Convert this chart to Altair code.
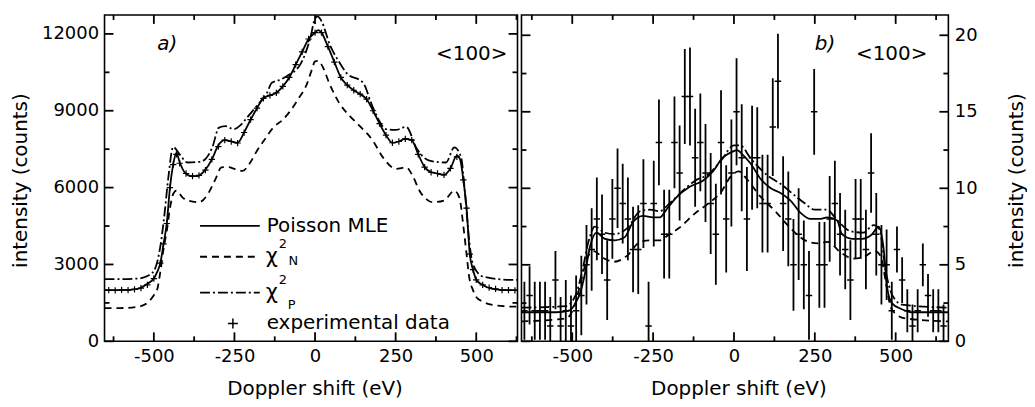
import altair as alt
import pandas as pd

FONT = "DejaVu Sans"

# ---------------- panel a) : fits and data (counts) ----------------
a_mle_x = [-653, -600, -550, -520, -500, -490, -480, -470, -460, -450, -440, -430, -420, -405, -385,
           -365, -340, -320, -300, -280, -260, -240, -220, -200, -180, -160, -140, -120, -100, -80,
           -60, -40, -20, 0, 10, 20, 40, 60, 80, 100, 120, 140, 160, 180, 200,
           220, 240, 260, 280, 300, 320, 340, 360, 380, 400, 420, 440, 450, 460, 470,
           480, 490, 500, 520, 550, 600, 628]
a_mle_y = [2000, 2000, 2050, 2250, 2450, 2700, 3050, 3800, 4600, 6000, 6900, 7350, 7000, 6600, 6450,
           6450, 6700, 7100, 7650, 7850, 7800, 7750, 8150, 8650, 9100, 9500, 9600, 9700, 9950, 10300,
           10800, 11300, 11800, 12050, 12150, 12050, 11500, 10900, 10300, 10000, 9800, 9650, 9450, 9000, 8500,
           8050, 7750, 7800, 7900, 7850, 7300, 6800, 6600, 6550, 6500, 6750, 7250, 7100, 6300, 5200,
           3400, 2800, 2400, 2200, 2050, 2000, 2000]

a_chin_x = [-653, -600, -550, -520, -500, -490, -480, -470, -460, -450, -440, -430, -410, -390, -360,
            -330, -310, -290, -270, -250, -225, -200, -180, -155, -130, -100, -77, -50, -26, -10,
            0, 10, 20, 46, 75, 108, 139, 180, 211, 252, 283, 305, 324, 345, 365,
            401, 432, 448, 460, 470, 478, 490, 499, 520, 551, 600, 628]
a_chin_y = [1300, 1300, 1350, 1500, 1800, 2000, 2700, 3600, 4300, 5200, 5750, 5880, 5600, 5480, 5430,
            5800, 6300, 6790, 6800, 6730, 6650, 7000, 7440, 7900, 8340, 8650, 8990, 9500, 10020, 10600,
            10930, 10950, 10800, 10020, 9300, 8790, 8400, 7820, 7170, 6730, 6790, 6400, 5880, 5550, 5430,
            5500, 5880, 5600, 4500, 3400, 2520, 2000, 1750, 1550, 1420, 1360, 1350]

a_chip_x = [-653, -600, -550, -520, -500, -494, -480, -468, -455, -440, -420, -396, -355, -319, -298,
            -278, -252, -230, -211, -180, -149, -134, -110, -88, -46, -15, 0, 8, 20, 46,
            70, 98, 149, 180, 221, 250, 283, 314, 355, 406, 432, 453, 465, 478, 489,
            520, 611, 628]
a_chip_y = [2430, 2430, 2450, 2550, 2750, 2910, 3700, 4850, 6400, 7590, 7300, 6980, 7010, 7560, 8340,
            8400, 8280, 8450, 8730, 9200, 9700, 10090, 10200, 10350, 10800, 11830, 12600, 12680, 12500, 11570,
            11000, 10470, 10090, 9110, 8280, 8250, 8370, 7560, 7050, 6980, 7570, 7180, 5800, 3950, 3040,
            2530, 2400, 2400]

a_exp_x = [-640, -620, -600, -580, -560, -540, -520, -500, -480, -470, -460, -450, -440, -430, -420,
           -400, -380, -360, -340, -320, -300, -280, -260, -240, -220, -200, -180, -160, -140, -120,
           -100, -80, -60, -40, -20, 0, 20, 40, 60, 80, 100, 120, 140, 160, 180,
           200, 220, 240, 260, 280, 300, 320, 340, 360, 380, 400, 420, 440, 460, 470,
           480, 490, 500, 520, 540, 560, 580, 600, 620]
a_exp_y = [2000, 1990, 2010, 2000, 2030, 2080, 2200, 2450, 3050, 3800, 4600, 6000, 6900, 7300, 6950,
           6550, 6450, 6480, 6680, 7100, 7600, 7850, 7800, 7740, 8150, 8650, 9100, 9480, 9600, 9700,
           9950, 10300, 10800, 11300, 11800, 12050, 12050, 11500, 10900, 10300, 10000, 9800, 9650, 9450, 9000,
           8500, 8050, 7750, 7800, 7900, 7850, 7300, 6800, 6600, 6550, 6500, 6750, 7200, 6300, 5200,
           3400, 2800, 2400, 2200, 2100, 2050, 2000, 2000, 1990]

# ---------------- panel b) : fits and data (counts) ----------------
b_mle_x = [-657, -600, -550, -510, -490, -475, -461, -445, -425, -399, -368, -338, -312, -281, -250,
           -229, -209, -178, -137, -96, -65, -35, -4, 10, 22, 52, 83, 114, 144, 175,
           206, 237, 268, 288, 319, 334, 365, 396, 427, 447, 463, 473, 488, 519, 550,
           600, 663]
b_mle_y = [1.9, 1.9, 1.9, 2.0, 2.5, 3.2, 4.4, 6.2, 7.1, 6.7, 6.6, 6.8, 7.8, 8.2, 8.1,
           8.1, 8.6, 9.4, 10.1, 10.5, 11.1, 12.0, 12.4, 12.5, 12.3, 11.6, 10.6, 10.0, 9.7, 9.2,
           8.4, 8.0, 8.0, 8.1, 7.9, 7.0, 6.7, 6.7, 7.0, 7.5, 6.0, 3.6, 2.5, 2.1, 1.9,
           1.9, 1.9]

b_chin_x = [-657, -520, -490, -470, -450, -435, -400, -370, -330, -290, -260, -230, -200, -170, -124,
            -80, -42, -5, 15, 40, 80, 128, 170, 220, 260, 290, 330, 370, 400, 436,
            455, 470, 485, 500, 530, 663]
b_chin_y = [1.3, 1.5, 2.5, 4.2, 5.6, 5.9, 5.4, 5.2, 5.6, 6.5, 6.6, 6.6, 7.0, 7.4, 8.3,
            9.0, 9.7, 10.9, 11.1, 10.6, 9.5, 8.5, 7.5, 6.6, 6.4, 6.5, 5.8, 5.4, 5.5, 5.9,
            5.5, 3.8, 2.2, 1.8, 1.5, 1.3]

b_chip_x = [-657, -520, -490, -470, -450, -430, -400, -370, -330, -290, -260, -230, -200, -150, -120,
            -80, -40, 0, 20, 50, 100, 150, 184, 220, 250, 287, 320, 360, 400, 432,
            450, 470, 490, 520, 663]
b_chip_y = [2.2, 2.3, 3.0, 4.5, 6.5, 7.5, 7.1, 7.0, 7.4, 8.5, 8.6, 8.5, 9.0, 10.0, 10.5,
            10.9, 11.8, 12.8, 12.8, 12.0, 10.9, 10.2, 9.6, 9.0, 8.6, 8.6, 7.9, 7.2, 7.1, 7.6,
            7.3, 4.5, 3.0, 2.4, 2.2]

b_exp_x = [-648, -632, -616, -600, -584, -568, -552, -536, -520, -504,
           -488, -472, -456, -440, -424, -408, -392, -376, -360, -344,
           -328, -312, -296, -280, -264, -248, -232, -216, -200, -184,
           -168, -152, -136, -120, -104, -88, -72, -56, -40, -24,
           -8, 8, 24, 40, 56, 72, 88, 104, 120, 136,
           152, 168, 184, 200, 216, 232, 248, 264, 280, 296,
           312, 328, 344, 360, 376, 392, 408, 424, 440, 456,
           472, 488, 504, 520, 536, 552, 568, 584, 600, 616,
           632, 648]
b_exp_y = [2, 3, 2, 2, 2, 1, 4, 1, 2, 1,
           2, 3, 5, 6, 8, 7, 4, 8, 10, 9,
           8, 6, 6, 9, 1, 9, 13, 7, 7, 13,
           11, 16, 16, 12, 13, 11, 9, 7, 13, 8,
           11, 15, 12, 8, 12, 12, 9, 9, 14, 17,
           9, 8, 5, 7, 5, 3, 15, 5, 5, 8,
           9, 7, 6, 4, 8, 8, 6, 11, 7, 5,
           5, 2, 6, 4, 2, 1, 2, 5, 3, 2,
           2, 1]
b_exp_err = [1.9, 1.9, 1.9, 1.9, 1.9, 1.9, 1.9, 1.9, 2.0, 2.0,
             2.3, 2.6, 2.6, 2.7, 2.7, 2.6, 2.6, 2.6, 2.6, 2.6,
             2.7, 2.8, 2.9, 2.9, 2.9, 2.8, 2.8, 2.9, 2.9, 3.0,
             3.1, 3.1, 3.2, 3.2, 3.2, 3.2, 3.3, 3.3, 3.4, 3.5,
             3.5, 3.5, 3.5, 3.4, 3.4, 3.3, 3.2, 3.2, 3.2, 3.1,
             3.1, 3.1, 3.0, 3.0, 2.9, 2.9, 2.8, 2.8, 2.8, 2.8,
             2.8, 2.7, 2.6, 2.6, 2.6, 2.6, 2.6, 2.6, 2.7, 2.6,
             2.3, 1.9, 1.5, 1.5, 1.4, 1.4, 1.4, 1.4, 1.4, 1.4,
             1.4, 1.4]

# ---------------- axes / ticks ----------------
x_major = [-500, -250, 0, 250, 500]
x_minor = [-625, -375, -125, 125, 375, 625]
a_y_major = [0, 3000, 6000, 9000, 12000]
a_y_minor = [1500, 4500, 7500, 10500]
b_y_major = [0, 5, 10, 15, 20]
b_y_minor = [2.5, 7.5, 12.5, 17.5]

W1, W2, H = 415, 429, 328
XA = [-653, 628]
XB = [-657, 663]
YA = [0, 12740]
YB = [0, 21.33]

HYPHEN_LABEL = "datum.value < 0 ? '-' + abs(datum.value) : '' + datum.value"


def sc(dom):
    return alt.Scale(domain=dom, nice=False, zero=False)


def label_x_axis(tx):
    return alt.Axis(orient="bottom", values=x_major, ticks=False, tickSize=0, domain=False, grid=False,
                    labelExpr=HYPHEN_LABEL,
                    labelFont=FONT, labelFontSize=18, labelColor="black", labelPadding=6, labelFlush=False,
                    title="Doppler shift (eV)", titleFont=FONT, titleFontSize=20, titleFontWeight="normal",
                    titleColor="black", titleX=tx, titleY=47, titleAlign="center", titleBaseline="middle")


def label_y_axis(orient, values, tx):
    return alt.Axis(orient=orient, values=values, ticks=False, tickSize=0, domain=False, grid=False,
                    labelExpr=HYPHEN_LABEL, labelFont=FONT, labelFontSize=18, labelColor="black",
                    labelPadding=6, labelFlush=False, title="intensity (counts)", titleFont=FONT,
                    titleFontSize=20, titleFontWeight="normal", titleColor="black", titleAngle=270,
                    titleX=tx, titleY=166, titleAlign="center", titleBaseline="middle")


def line_layer(xs, ys, xs_, ys_, dash=None, xaxis=None, yaxis=None):
    df = pd.DataFrame({"x": xs, "y": ys})
    kw = dict(color="black", strokeWidth=1.8, clip=True, interpolate="monotone")
    if dash is not None:
        kw["strokeDash"] = dash
    xenc = alt.X("x:Q", scale=xs_, axis=xaxis) if xaxis is not None else alt.X("x:Q", scale=xs_)
    yenc = alt.Y("y:Q", scale=ys_, axis=yaxis) if yaxis is not None else alt.Y("y:Q", scale=ys_)
    return alt.Chart(df).mark_line(**kw).encode(x=xenc, y=yenc)


def xtick_layer(values, xs_, y0, y1):
    return alt.Chart(pd.DataFrame({"v": values})).mark_rule(
        color="black", strokeWidth=1.8, orient="vertical"
    ).encode(x=alt.X("v:Q", scale=xs_), y=alt.value(y0), y2=alt.value(y1))


def ytick_layer(values, ys_, x0, x1):
    return alt.Chart(pd.DataFrame({"w": values})).mark_rule(
        color="black", strokeWidth=1.8, orient="horizontal"
    ).encode(y=alt.Y("w:Q", scale=ys_), x=alt.value(x0), x2=alt.value(x1))


def frame_ticks(xs_, ys_, y_major, y_minor, W):
    return [
        xtick_layer(x_major, xs_, H, H - 9),
        xtick_layer(x_minor, xs_, H, H - 5),
        xtick_layer(x_major, xs_, 0, 9),
        xtick_layer(x_minor, xs_, 0, 5),
        ytick_layer(y_major, ys_, 0, 9),
        ytick_layer(y_minor, ys_, 0, 5),
        ytick_layer(y_major, ys_, W, W - 9),
        ytick_layer(y_minor, ys_, W, W - 5),
    ]


one = pd.DataFrame({"k": [0]})
PLUS = "M-1,0L1,0M0,-1L0,1"


def txt(s, x, y, size=20, align="left", baseline="middle", style="normal"):
    return alt.Chart(one).mark_text(text=s, font=FONT, fontSize=size, fontStyle=style, align=align,
                                    baseline=baseline, color="black").encode(x=alt.value(x), y=alt.value(y))


def leg_rule(y, dash=None):
    kw = dict(color="black", strokeWidth=1.8)
    if dash is not None:
        kw["strokeDash"] = dash
    return alt.Chart(one).mark_rule(**kw).encode(x=alt.value(96), x2=alt.value(156), y=alt.value(y))


DASH = [7, 5]
DASHDOT = [10, 3, 2, 3]

# ---------------- panel a ----------------
sxa, sya = sc(XA), sc(YA)
a_exp = alt.Chart(pd.DataFrame({"x": a_exp_x, "y": a_exp_y})).mark_point(
    shape=PLUS, size=40, filled=False, color="black", strokeWidth=1.2, opacity=1, clip=True
).encode(x=alt.X("x:Q", scale=sxa), y=alt.Y("y:Q", scale=sya))

panel_a = alt.layer(
    line_layer(a_mle_x, a_mle_y, sxa, sya, xaxis=label_x_axis(211),
               yaxis=label_y_axis("left", a_y_major, -84)),
    line_layer(a_chin_x, a_chin_y, sxa, sya, DASH),
    line_layer(a_chip_x, a_chip_y, sxa, sya, DASHDOT),
    a_exp,
    *frame_ticks(sxa, sya, a_y_major, a_y_minor, W1),
    txt("a)", 63, 29, style="italic", align="center"),
    txt("<100>", 369, 39, align="center"),
    leg_rule(212),
    leg_rule(243, DASH),
    leg_rule(279, DASHDOT),
    txt("Poisson MLE", 163, 212),
    txt("\u03c7", 162, 249, size=21, baseline="alphabetic"),
    txt("2", 175, 234, size=13, baseline="alphabetic"),
    txt("N", 185, 251, size=13, baseline="alphabetic"),
    txt("\u03c7", 162, 285, size=21, baseline="alphabetic"),
    txt("2", 175, 270, size=13, baseline="alphabetic"),
    txt("P", 184, 296, size=13, baseline="alphabetic"),
    alt.Chart(one).mark_point(shape=PLUS, size=100, filled=False, color="black", strokeWidth=1.5,
                              opacity=1).encode(x=alt.value(129), y=alt.value(310)),
    txt("experimental data", 163, 310),
).properties(width=W1, height=H)

# ---------------- panel b ----------------
sxb, syb = sc(XB), sc(YB)
b_df = pd.DataFrame({"x": b_exp_x, "y": b_exp_y, "err": b_exp_err})
b_vert = alt.Chart(b_df).mark_rule(color="black", strokeWidth=1.8, clip=True).transform_calculate(
    lo="max(0, datum.y - datum.err)", hi="datum.y + datum.err"
).encode(x=alt.X("x:Q", scale=sxb), y=alt.Y("lo:Q", scale=syb), y2="hi:Q")
b_horz = alt.Chart(b_df).mark_rule(color="black", strokeWidth=1.5, clip=True).transform_calculate(
    xl="datum.x - 10", xr="datum.x + 10"
).encode(x=alt.X("xl:Q", scale=sxb), x2="xr:Q", y=alt.Y("y:Q", scale=syb))

panel_b = alt.layer(
    line_layer(b_mle_x, b_mle_y, sxb, syb, xaxis=label_x_axis(218),
               yaxis=label_y_axis("right", b_y_major, 68)),
    b_vert,
    b_horz,
    line_layer(b_chin_x, b_chin_y, sxb, syb, DASH),
    line_layer(b_chip_x, b_chip_y, sxb, syb, DASHDOT),
    *frame_ticks(sxb, syb, b_y_major, b_y_minor, W2),
    txt("b)", 305, 29, style="italic", align="center"),
    txt("<100>", 372, 39, align="center"),
).properties(width=W2, height=H)

chart = alt.hconcat(panel_a, panel_b, spacing=0).properties(
    padding={"left": 2, "top": 4, "right": 0, "bottom": 0}, background="white"
).configure_view(stroke="black", strokeWidth=1.6)

chart.save("out.html", embed_options={"renderer": "svg", "actions": False})
